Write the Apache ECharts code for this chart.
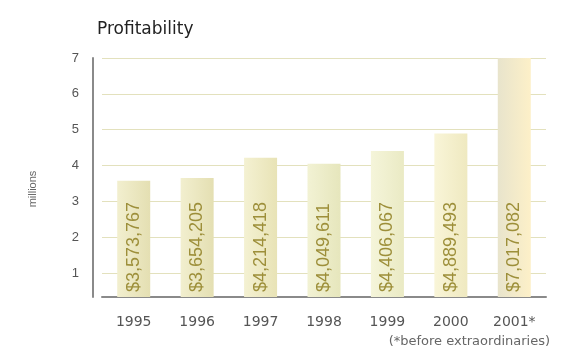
<!DOCTYPE html>
<html><head><meta charset="utf-8">
<script src="https://cdn.jsdelivr.net/npm/echarts@6/dist/echarts.min.js"></script>
<style>html,body{margin:0;padding:0;background:#fff}#c{width:572px;height:360px}</style>
</head><body><div id="c"></div>
<script>
var categories = ['1995','1996','1997','1998','1999','2000','2001*'];
var profits = [3573767, 3654205, 4214418, 4049611, 4406067, 4889493, 7017082];
var profitLabels = ['$3,573,767','$3,654,205','$4,214,418','$4,049,611','$4,406,067','$4,889,493','$7,017,082'];
var yTicks = [1,2,3,4,5,6,7];
var barColors = [['#f2efcf','#e4dfb2'],['#f2efcf','#e4dfb2'],['#f4f1d2','#e8e3b6'],['#f2f2d4','#e6e6bc'],['#f5f5da','#eaeac4'],['#f9f5d8','#efe9c0'],['#e8e4cc','#fdf0c8']];

var chart = echarts.init(document.getElementById('c'), null, {renderer:'canvas'});
var wide = 'DejaVu Sans, sans-serif';
var narrow = 'Liberation Sans, Arial, sans-serif';
chart.setOption({
  animation:false,
  title:{text:'Profitability', left:92, top:16, textStyle:{fontFamily:wide, fontSize:17, fontWeight:'normal', color:'#222'}},
  graphic:[
    {type:'text', right:22, top:335, style:{text:'(*before extraordinaries)', font:'13px '+wide, fill:'#666'}},
    {type:'text', x:33, y:189, rotation:Math.PI/2, style:{text:'millions', font:'11px '+narrow, fill:'#666', align:'center', verticalAlign:'middle'}}
  ],
  grid:{left:102, right:26, top:58, bottom:63},
  xAxis:{type:'category', data:categories,
    axisLine:{lineStyle:{color:'#8a8a8a', width:2}}, axisTick:{show:false},
    axisLabel:{fontFamily:wide, fontSize:14, color:'#555', margin:18}},
  yAxis:{type:'value', min:0.33, max:7, offset:9,
    axisLine:{show:true, lineStyle:{color:'#8a8a8a', width:2}},
    axisTick:{show:false, customValues:yTicks},
    axisLabel:{fontFamily:narrow, fontSize:13, color:'#555', margin:14, customValues:yTicks},
    splitLine:{show:true, lineStyle:{color:'#e3e1bd', width:1}}},
  series:[{type:'bar', barWidth:33,
    data: profits.map(function(v,i){return {value:v/1e6, itemStyle:{color:new echarts.graphic.LinearGradient(0,0,1,0,[{offset:0,color:barColors[i][0]},{offset:1,color:barColors[i][1]}])}};}),
    label:{show:true, position:'insideBottom', rotate:90, align:'left', verticalAlign:'middle', distance:5,
      fontFamily:narrow, fontSize:18, color:'#9d8f3a',
      formatter:function(p){return profitLabels[p.dataIndex];}}
  }]
});
</script></body></html>
